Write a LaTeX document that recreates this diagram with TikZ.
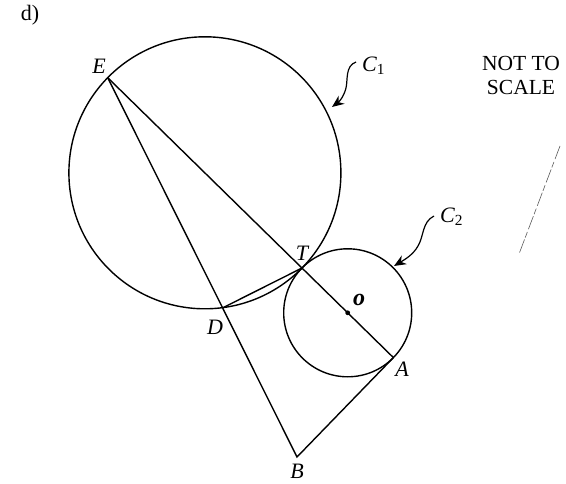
\documentclass[tikz,border=0pt]{standalone}
\usepackage{fontspec}
\setmainfont{Liberation Serif}
\usetikzlibrary{arrows.meta}
\begin{document}
\begin{tikzpicture}[x=1pt,y=-1pt,
  geo/.style={line width=1.4pt,black},
  lbl/.style={font=\fontsize{22}{24}\selectfont\itshape,inner sep=0pt},
  pointer/.style={line width=1.2pt,-{Stealth[length=12pt,width=10pt]}}]
\useasboundingbox (0,0) rectangle (566,484);
% centres and points
\coordinate (c1) at (204.9,172.8);
\coordinate (c2) at (347.7,312.8);
\coordinate (T) at (302,268);
\coordinate (E) at (107.8,77.8);
\coordinate (A) at (393.4,357.6);
\coordinate (D) at (222.8,307.8);
\coordinate (B) at (297,457);
% circles
\draw[geo] (c1) circle[radius=136];
\draw[geo] (c2) circle[radius=64];
% lines
\draw[geo] (E) -- (A);
\draw[geo] (E) -- (B) -- (A);
\draw[geo] (D) -- (T);
\fill (c2) circle[radius=2.4];
% labels
\node[font=\fontsize{22}{24}\selectfont,inner sep=0pt] (d) at (30,15) {d)};
\node[lbl] (lE) at (99,66) {E};
\node[lbl] (lT) at (302,253) {T};
\node[lbl] (lD) at (215,327) {D};
\node[lbl] (lA) at (402,369) {A};
\node[lbl] (lB) at (297,471) {B};
\node[inner sep=0pt,font=\fontsize{24}{26}\selectfont\bfseries\itshape] (lO) at (359,300) {o};
\node[lbl,anchor=west] (lC1) at (362,66) {C\textsubscript{\upshape 1}};
\node[lbl,anchor=west] (lC2) at (440,217) {C\textsubscript{\upshape 2}};
\node[font=\fontsize{21.5}{24}\selectfont,align=center,inner sep=0pt] (nts) at (521,75) {NOT TO\\SCALE};
% pointers
\coordinate (p1s) at (356,62);
\coordinate (p1e) at (332,107);
\draw[pointer] (p1s) .. controls (345,66) and (348,80) .. (346,88) .. controls (344,96) and (340,101) .. (p1e);
\coordinate (p2s) at (434,216);
\coordinate (p2e) at (394,266);
\draw[pointer] (p2s) .. controls (422,222) and (424,236) .. (418,246) .. controls (413,255) and (404,260) .. (p2e);
% stray dashed mark
\coordinate (s1) at (560,146);
\coordinate (s2) at (519,254);
\draw[line width=0.6pt,dash pattern=on 14pt off 3pt on 6pt off 2pt,gray!70!black] (s1) -- (s2);
\end{tikzpicture}
\end{document}
